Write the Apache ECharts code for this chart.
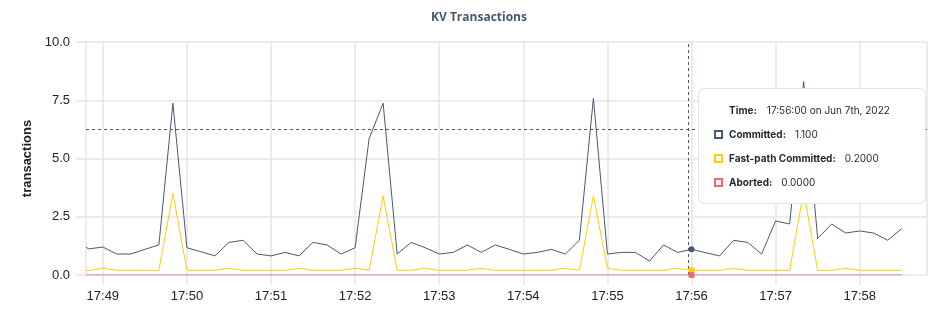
<!DOCTYPE html>
<html>
<head>
<meta charset="utf-8">
<script src="https://cdn.jsdelivr.net/npm/echarts@6/dist/echarts.min.js"></script>
<style>
html,body{margin:0;padding:0;background:#fff;}
#chart{width:943px;height:326px;}
</style>
</head>
<body>
<div id="chart"></div>
<script>
// ---- data ----
const chartTitle = 'KV Transactions';
const yAxisName = 'transactions';
const seriesNames = ['Committed', 'Fast-path Committed', 'Aborted'];
const seriesColors = ['#475872', '#ffcd02', '#f16969'];
const dateParts = [2022, 5, 7]; // Jun 7th, 2022
const axisRange = ['17:48:48', '17:58:48'];
const times = [
  '17:48:48','17:48:50',
  '17:49:00','17:49:10','17:49:20','17:49:30','17:49:40','17:49:50',
  '17:50:00','17:50:10','17:50:20','17:50:30','17:50:40','17:50:50',
  '17:51:00','17:51:10','17:51:20','17:51:30','17:51:40','17:51:50',
  '17:52:00','17:52:10','17:52:20','17:52:30','17:52:40','17:52:50',
  '17:53:00','17:53:10','17:53:20','17:53:30','17:53:40','17:53:50',
  '17:54:00','17:54:10','17:54:20','17:54:30','17:54:40','17:54:50',
  '17:55:00','17:55:10','17:55:20','17:55:30','17:55:40','17:55:50',
  '17:56:00','17:56:10','17:56:20','17:56:30','17:56:40','17:56:50',
  '17:57:00','17:57:10','17:57:20','17:57:30','17:57:40','17:57:50',
  '17:58:00','17:58:10','17:58:20','17:58:30'
];
const committed = [
  1.19,1.12,
  1.20,0.90,0.90,1.10,1.29,7.37,
  1.17,1.00,0.82,1.40,1.49,0.90,
  0.82,0.97,0.82,1.40,1.29,0.90,
  1.17,5.86,7.37,0.90,1.40,1.17,
  0.90,0.97,1.29,0.97,1.29,1.10,
  0.90,0.97,1.10,0.90,1.49,7.58,
  0.90,0.97,0.97,0.60,1.29,0.97,
  1.10,0.96,0.82,1.49,1.40,0.90,
  2.32,2.19,8.30,1.57,2.19,1.80,
  1.89,1.80,1.49,1.99
];
const fastPath = [
  0.20,0.20,
  0.29,0.20,0.20,0.20,0.20,3.50,
  0.20,0.20,0.20,0.29,0.20,0.20,
  0.20,0.20,0.29,0.20,0.20,0.20,
  0.29,0.20,3.39,0.20,0.20,0.29,
  0.20,0.20,0.20,0.29,0.20,0.20,
  0.20,0.20,0.20,0.29,0.20,3.39,
  0.29,0.20,0.20,0.20,0.20,0.29,
  0.20,0.20,0.20,0.29,0.20,0.20,
  0.20,0.20,3.60,0.20,0.20,0.29,
  0.20,0.20,0.20,0.20
];
const aborted = times.map(() => 0); // all zero in the source
// hover state (cursor position)
const hoverTime = '17:56:00';
const cursorTime = '17:55:57.6';
const cursorValue = 6.27;
const hoverTooltipValues = ['1.100', '0.2000', '0.0000'];
const yTicks = [0, 2.5, 5, 7.5, 10];

// ---- build ----
function toMs(t) {
  const p = t.split(':');
  const s = parseFloat(p[2]);
  const d = new Date(dateParts[0], dateParts[1], dateParts[2], +p[0], +p[1], Math.floor(s));
  return d.getTime() + Math.round((s - Math.floor(s)) * 1000);
}
const xs = times.map(toMs);
const allSeries = [committed, fastPath, aborted];
const hoverIdx = times.indexOf(hoverTime);

const chart = echarts.init(document.getElementById('chart'), null, {renderer: 'canvas'});

const gridColor = '#e6e6e6';
const symbolShapes = ['circle', 'roundRect', 'roundRect'];

const option = {
  animation: false,
  title: {
    text: chartTitle,
    left: 426, top: 7,
    textStyle: {fontFamily: 'Open Sans', fontWeight: 'bold', fontSize: 12, color: '#475872'}
  },
  grid: {left: 86, right: 16, top: 42, bottom: 51},
  xAxis: {
    type: 'time',
    min: toMs(axisRange[0]), max: toMs(axisRange[1]),
    minInterval: 60000, maxInterval: 60000,
    axisLine: {show: false},
    axisTick: {show: true, length: 10, lineStyle: {color: gridColor, width: 1.5}},
    splitLine: {show: true, lineStyle: {color: gridColor, width: 1.5}},
    axisLabel: {
      formatter: '{HH}:{mm}', fontFamily: 'Liberation Sans', fontSize: 13, color: '#222',
      margin: 15, showMinLabel: false, showMaxLabel: false, hideOverlap: false
    }
  },
  yAxis: {
    type: 'value', min: yTicks[0], max: yTicks[yTicks.length - 1], interval: 2.5,
    name: yAxisName, nameLocation: 'middle', nameGap: 48,
    nameTextStyle: {fontFamily: 'Liberation Sans', fontWeight: 'bold', fontSize: 13, color: '#222'},
    axisLine: {show: false},
    axisTick: {show: true, length: 10, lineStyle: {color: gridColor, width: 1.5}},
    splitLine: {show: true, lineStyle: {color: gridColor, width: 1.5}},
    axisLabel: {formatter: v => v.toFixed(1), fontFamily: 'Liberation Sans', fontSize: 13, color: '#222', margin: 16}
  },
  tooltip: {
    trigger: 'axis',
    triggerOn: 'none',
    alwaysShowContent: true,
    transitionDuration: 0,
    axisPointer: {type: 'none'},
    position: [698, 88],
    backgroundColor: '#fff',
    borderColor: '#e3e3e3',
    borderWidth: 1,
    borderRadius: 6,
    padding: 0,
    extraCssText: 'box-shadow:none;width:228px;height:116px;box-sizing:border-box;',
    formatter: function (params) {
      const idx = params[0].dataIndex;
      const d = new Date(xs[idx]);
      const months = ['Jan','Feb','Mar','Apr','May','Jun','Jul','Aug','Sep','Oct','Nov','Dec'];
      const pad = n => (n < 10 ? '0' : '') + n;
      const day = d.getDate();
      const suf = (day % 10 === 1 && day !== 11) ? 'st' : (day % 10 === 2 && day !== 12) ? 'nd' : (day % 10 === 3 && day !== 13) ? 'rd' : 'th';
      const tStr = pad(d.getHours()) + ':' + pad(d.getMinutes()) + ':' + pad(d.getSeconds()) +
        ' on ' + months[d.getMonth()] + ' ' + day + suf + ', ' + d.getFullYear();
      const base = 'font-family:Inter;font-size:10px;color:#242a35;line-height:24px;height:24px;display:flex;align-items:center;';
      let html = '<div style="padding:9px 0 0 15px;">';
      html += '<div style="' + base + 'padding-left:15px;"><b style="font-weight:700;">Time:</b><span style="margin-left:10px;">' + tStr + '</span></div>';
      seriesNames.forEach((n, i) => {
        html += '<div style="' + base + '"><span style="display:inline-block;width:9px;height:9px;box-sizing:border-box;border:2px solid ' +
          seriesColors[i] + ';margin-right:6px;"></span><b style="font-weight:700;">' + n + ':</b><span style="margin-left:9px;">' +
          hoverTooltipValues[i] + '</span></div>';
      });
      html += '</div>';
      return html;
    }
  },
  series: allSeries.map((vals, i) => {
    const s = {
      name: seriesNames[i],
      type: 'line',
      showSymbol: false,
      symbol: 'none',
      z: 3 - i + 2,
      lineStyle: {color: seriesColors[i], width: 1},
      itemStyle: {color: seriesColors[i]},
      emphasis: {disabled: true},
      data: xs.map((x, k) => [x, vals[k]]),
      markPoint: {
        silent: true,
        symbol: symbolShapes[i],
        symbolSize: 6,
        label: {show: false},
        itemStyle: {color: seriesColors[i]},
        data: [{coord: [xs[hoverIdx], vals[hoverIdx]]}]
      }
    };
    if (i === 0) {
      s.markLine = {
        silent: true,
        symbol: 'none',
        label: {show: false},
        lineStyle: {color: '#475872', width: 1, type: [3, 3]},
        data: [{xAxis: toMs(cursorTime)}, {yAxis: cursorValue}]
      };
    }
    return s;
  })
};
chart.setOption(option);
chart.dispatchAction({type: 'showTip', seriesIndex: 0, dataIndex: hoverIdx});
</script>
</body>
</html>
